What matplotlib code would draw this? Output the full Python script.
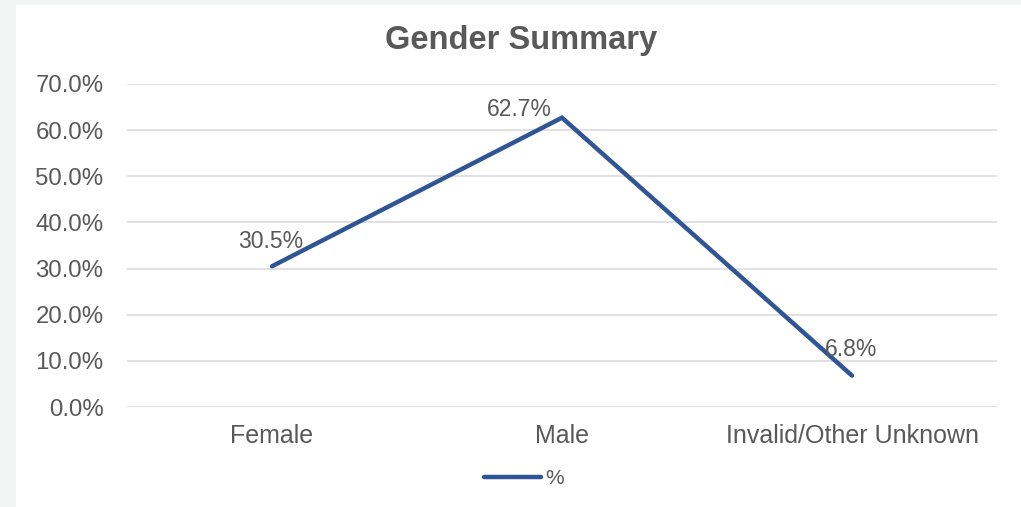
import matplotlib
matplotlib.use('Agg')
import matplotlib.pyplot as plt
from matplotlib.ticker import PercentFormatter

categories = ['Female', 'Male', 'Invalid/Other Unknown']
share = [0.305, 0.627, 0.068]
series_name = '%'

TEXT = '#595959'
LINE = '#2f5597'
GRID = '#d9d9d9'

plt.rcParams['font.family'] = ['Liberation Sans', 'DejaVu Sans']

fig = plt.figure(figsize=(10.21, 5.07), dpi=100)
fig.patch.set_facecolor('#f3f4f4')
# white chart panel
fig.patches.append(plt.Rectangle((16 / 1021, 0), 1, 1 - 5 / 507, transform=fig.transFigure,
                                 facecolor='white', edgecolor='none', zorder=-1))

ax = fig.add_axes([127 / 1021, 1 - 407 / 507, 870 / 1021, 323 / 507])
ax.set_facecolor('none')
ax.set_zorder(2)
x = range(len(categories))
line, = ax.plot(x, share, color=LINE, linewidth=3.2, solid_capstyle='round',
                solid_joinstyle='miter', label=series_name, zorder=3)

# data labels, offsets in points (dx, dy)
label_offsets = [(-1, 18), (-31, 6), (-1, 19)]
for i, v in enumerate(share):
    ax.annotate(f'{v * 100:.1f}%', (i, v), xytext=label_offsets[i], textcoords='offset points',
                ha='center', va='center', fontsize=16.5, color=TEXT, zorder=4)

ax.set_xlim(-0.5, len(categories) - 0.5)
ax.set_ylim(0, 0.7)
ax.set_yticks([i / 10 for i in range(8)])
ax.yaxis.set_major_formatter(PercentFormatter(1.0, decimals=1))
ax.set_xticks(list(x))
ax.set_xticklabels(categories)
ax.grid(axis='y', color=GRID, linewidth=1.1)
ax.set_axisbelow(True)
for s in ax.spines.values():
    s.set_visible(False)
ax.tick_params(axis='y', length=0, labelsize=17.3, labelcolor=TEXT, pad=17)
ax.tick_params(axis='x', length=0, labelsize=18, labelcolor=TEXT, pad=12)

fig.text(521 / 1021, 1 - 40 / 507, 'Gender Summary', ha='center', va='center',
         fontsize=23.5, fontweight='bold', color=TEXT)

leg = fig.legend(handles=[line], loc='center', bbox_to_anchor=(524 / 1021, 1 - 479 / 507),
                 frameon=False, fontsize=15, handlelength=2.7, handletextpad=0.2,
                 labelcolor=TEXT)

fig.savefig('out.png', dpi=100, facecolor=fig.get_facecolor())
